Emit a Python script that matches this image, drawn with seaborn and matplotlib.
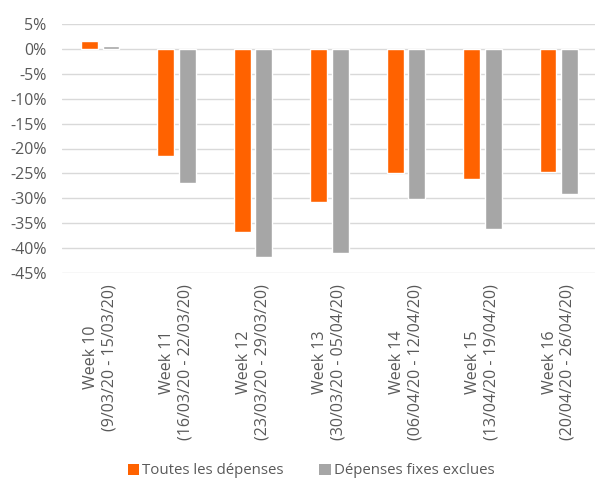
import matplotlib
matplotlib.use("Agg")
import matplotlib.pyplot as plt
import seaborn as sns
import pandas as pd
from matplotlib.ticker import FuncFormatter
from matplotlib.patches import Patch

weeks = ["Week 10\n(9/03/20 - 15/03/20)",
         "Week 11\n(16/03/20 - 22/03/20)",
         "Week 12\n(23/03/20 - 29/03/20)",
         "Week 13\n(30/03/20 - 05/04/20)",
         "Week 14\n(06/04/20 - 12/04/20)",
         "Week 15\n(13/04/20 - 19/04/20)",
         "Week 16\n(20/04/20 - 26/04/20)"]
toutes = [1.6, -21.5, -36.8, -30.8, -24.9, -26.1, -24.8]
fixes_exclues = [0.5, -27.0, -41.8, -40.9, -30.1, -36.1, -29.2]
series_names = ["Toutes les dépenses", "Dépenses fixes exclues"]
colors = ["#FF6200", "#A6A6A6"]
yticks = list(range(5, -50, -5))

df = pd.DataFrame({
    "week": weeks * 2,
    "value": toutes + fixes_exclues,
    "series": [series_names[0]] * len(weeks) + [series_names[1]] * len(weeks),
})

sns.set_theme(style="white")
plt.rcParams["font.family"] = ["Open Sans", "DejaVu Sans"]
text_color = "#595959"
fs = 11.5

fig = plt.figure(figsize=(5.95, 4.79), dpi=100)
ax = fig.add_axes([62 / 595, 206 / 479, 535 / 595, 249 / 479])

sns.barplot(data=df, x="week", y="value", hue="series", order=weeks,
            hue_order=series_names, palette=colors, width=0.567, gap=0.22,
            saturation=1, ax=ax, legend=False)

ax.set_ylim(-45, 5)
ax.set_xlim(-0.5, 6.5)
ax.set_yticks(yticks)
ax.yaxis.set_major_formatter(FuncFormatter(lambda v, p: f"{int(round(v))}%"))
ax.grid(axis="y", color="#D9D9D9", linewidth=1.0)
ax.set_axisbelow(True)
for s in ax.spines.values():
    s.set_visible(False)
ax.set_xlabel("")
ax.set_ylabel("")
ax.tick_params(axis="y", length=0, pad=11, labelsize=fs, labelcolor=text_color)
ax.tick_params(axis="x", length=0, pad=8, labelsize=fs, labelcolor=text_color)
for lab in ax.get_xticklabels():
    lab.set_rotation(90)
    lab.set_multialignment("center")
    lab.set_ha("center")
    lab.set_va("top")

handles = [Patch(facecolor=c, edgecolor="none", label=n) for c, n in zip(colors, series_names)]
leg = fig.legend(handles=handles, loc="center", bbox_to_anchor=(311 / 595, 1 - 471 / 479),
                 ncol=2, frameon=False, fontsize=10.8, handlelength=0.75, handleheight=0.75,
                 handletextpad=0.2, columnspacing=2.4, borderpad=0, borderaxespad=0)
for t in leg.get_texts():
    t.set_color(text_color)

fig.savefig("out.png", dpi=100)
